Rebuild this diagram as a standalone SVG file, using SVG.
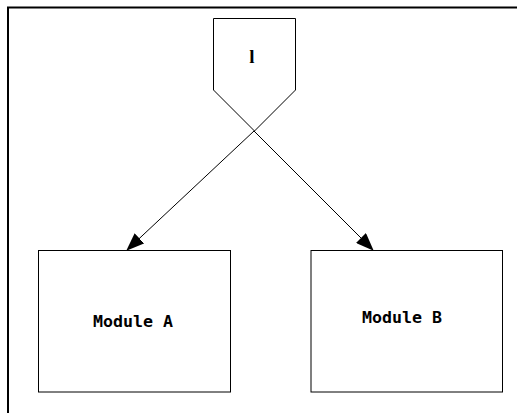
<svg xmlns="http://www.w3.org/2000/svg" width="517" height="413" viewBox="0 0 517 413">
<style>
.frame{fill:none;stroke:#000;stroke-width:2}
.node{fill:#fff;stroke:#000;stroke-width:1}
.edge{fill:none;stroke:#000;stroke-width:1}
.lbl{font-family:"DejaVu Sans Mono","Liberation Mono",monospace;font-size:16px;font-weight:bold;fill:#000;text-anchor:middle}
.num{font-family:"Liberation Serif",serif;font-size:19px;font-weight:bold;fill:#000;text-anchor:middle}
</style>
<defs>
<marker id="arr" markerWidth="18" markerHeight="14" refX="17" refY="7" orient="auto" markerUnits="userSpaceOnUse">
<path d="M0,0 L18,7 L0,14 z" fill="#000"/>
</marker>
</defs>
<path class="frame" d="M8,413 V7.5 H517"/>
<g id="connectors">
<line class="edge" x1="254" y1="131" x2="127" y2="250" marker-end="url(#arr)"/>
<line class="edge" x1="254" y1="131" x2="373" y2="250" marker-end="url(#arr)"/>
</g>
<g id="node1">
<path class="node" d="M213.5,18.5 H295.5 V90 L254.5,131 L213.5,90 Z"/>
<text class="num" x="252" y="63">l</text>
</g>
<g id="moduleA">
<rect class="node" x="38.5" y="250.5" width="192" height="141.5"/>
<text class="lbl" x="133" y="327" textLength="80" lengthAdjust="spacingAndGlyphs">Module A</text>
</g>
<g id="moduleB">
<rect class="node" x="311" y="250.5" width="191.5" height="141.5"/>
<text class="lbl" x="402" y="323" textLength="80" lengthAdjust="spacingAndGlyphs">Module B</text>
</g>
</svg>
